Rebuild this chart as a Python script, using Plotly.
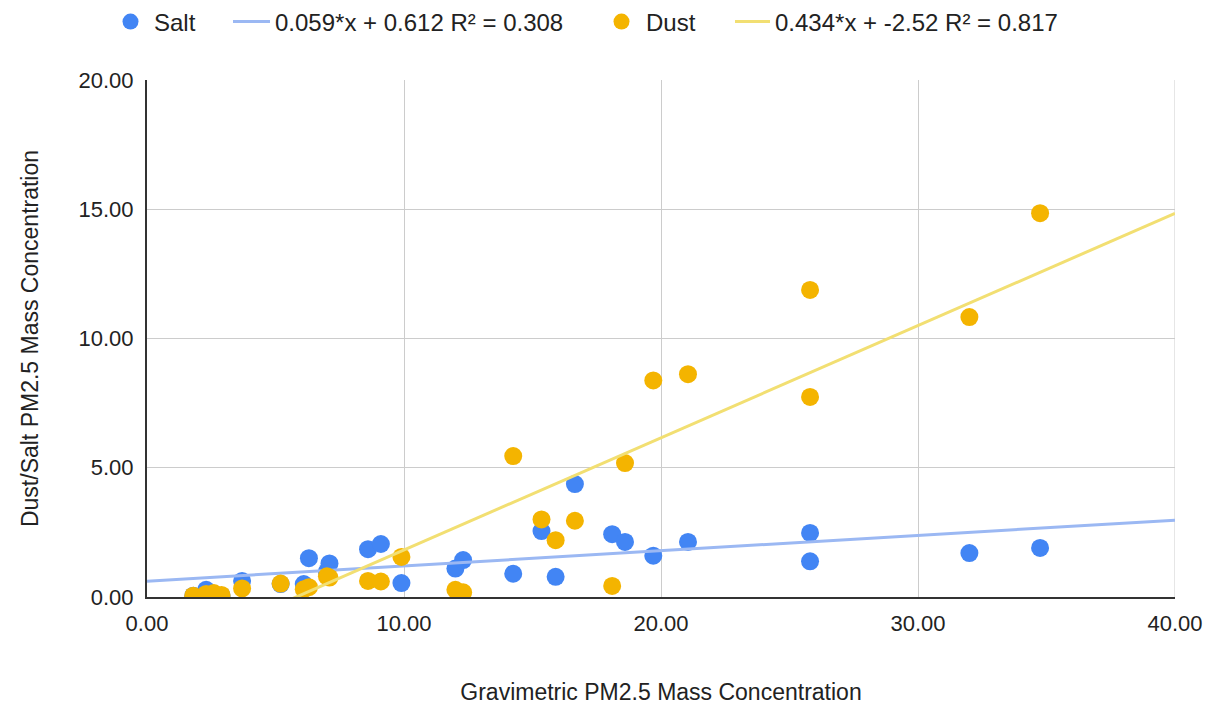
import plotly.graph_objects as go

salt_x = [1.8, 2.3, 2.6, 2.9, 3.7, 5.2, 6.1, 6.3, 7.0, 7.1, 8.6, 9.1, 9.9, 12.0, 12.3,
          14.25, 15.35, 15.9, 16.65, 18.1, 18.6, 19.7, 21.05, 25.8, 25.8, 32.0, 34.75]
salt_y = [0.05, 0.28, 0.12, 0.05, 0.62, 0.5, 0.5, 1.5, 0.98, 1.3, 1.85, 2.05, 0.54, 1.1, 1.43,
          0.9, 2.55, 0.78, 4.37, 2.43, 2.13, 1.6, 2.13, 2.48, 1.38, 1.7, 1.9]

dust_x = [1.8, 2.3, 2.6, 2.9, 3.7, 5.2, 6.1, 6.3, 7.0, 7.1, 8.6, 9.1, 9.9, 12.0, 12.3,
          14.25, 15.35, 15.9, 16.65, 18.1, 18.6, 19.7, 21.05, 25.8, 25.8, 32.0, 34.75]
dust_y = [0.05, 0.12, 0.15, 0.08, 0.33, 0.52, 0.3, 0.38, 0.8, 0.75, 0.62, 0.6, 1.55, 0.28, 0.18,
          5.45, 3.0, 2.2, 2.95, 0.43, 5.18, 8.38, 8.62, 11.88, 7.74, 10.83, 14.85]

salt_slope, salt_intercept = 0.059, 0.612
dust_slope, dust_intercept = 0.434, -2.52
trend_x = [0, 40]

x_ticks = [0, 10, 20, 30, 40]
y_ticks = [0, 5, 10, 15, 20]

FONT = "Liberation Sans, Arial, sans-serif"
W, H = 1218, 706

fig = go.Figure()
fig.add_trace(go.Scatter(x=salt_x, y=salt_y, mode="markers", name="Salt", legend="legend",
                         showlegend=True, marker=dict(color="#4285F4", size=18)))
fig.add_trace(go.Scatter(x=trend_x, y=[salt_slope * v + salt_intercept for v in trend_x],
                         mode="lines", name="0.059*x + 0.612 R² = 0.308", legend="legend2",
                         showlegend=True, line=dict(color="#9bb8f3", width=3)))
fig.add_trace(go.Scatter(x=dust_x, y=dust_y, mode="markers", name="Dust", legend="legend3",
                         showlegend=True, marker=dict(color="#F4B400", size=18)))
fig.add_trace(go.Scatter(x=trend_x, y=[dust_slope * v + dust_intercept for v in trend_x],
                         mode="lines", name="0.434*x + -2.52 R² = 0.817", legend="legend4",
                         showlegend=True, line=dict(color="#f2df72", width=3)))


def leg(left_px, iw=37):
    return dict(orientation="h", x=left_px / W, xanchor="left", xref="container",
                y=1 - 14 / H, yanchor="middle", yref="container",
                font=dict(size=24, color="#222"), itemwidth=iw,
                bgcolor="rgba(0,0,0,0)")


fig.update_layout(
    width=W, height=H, showlegend=True,
    paper_bgcolor="white", plot_bgcolor="white",
    margin=dict(l=139, r=51, t=72, b=117),
    font=dict(family=FONT, size=23, color="#222"),
    legend=leg(99), legend2=leg(220), legend3=leg(589, 39), legend4=leg(722, 35),
    xaxis=dict(range=[0, 40], tickvals=x_ticks, tickformat=".2f",
               showgrid=True, gridcolor="#cccccc", gridwidth=1,
               showline=True, linecolor="#333", linewidth=2,
               zeroline=False, ticks="", ticklabelstandoff=6,
               tickfont=dict(size=22),
               title=dict(text="Gravimetric PM2.5 Mass Concentration", standoff=48,
                          font=dict(size=23, color="#222"))),
    yaxis=dict(range=[0, 20], tickvals=y_ticks, tickformat=".2f",
               showgrid=True, gridcolor="#cccccc", gridwidth=1,
               showline=True, linecolor="#333", linewidth=2,
               zeroline=False, ticks="", ticklabelstandoff=7,
               tickfont=dict(size=22),
               title=dict(text="Dust/Salt PM2.5 Mass Concentration", standoff=33,
                          font=dict(size=23, color="#222"))),
)
fig.add_shape(type="line", xref="x", yref="y", x0=40, x1=40, y0=0, y1=20,
              line=dict(color="#cccccc", width=1), layer="below")

fig.write_html("out.html")
